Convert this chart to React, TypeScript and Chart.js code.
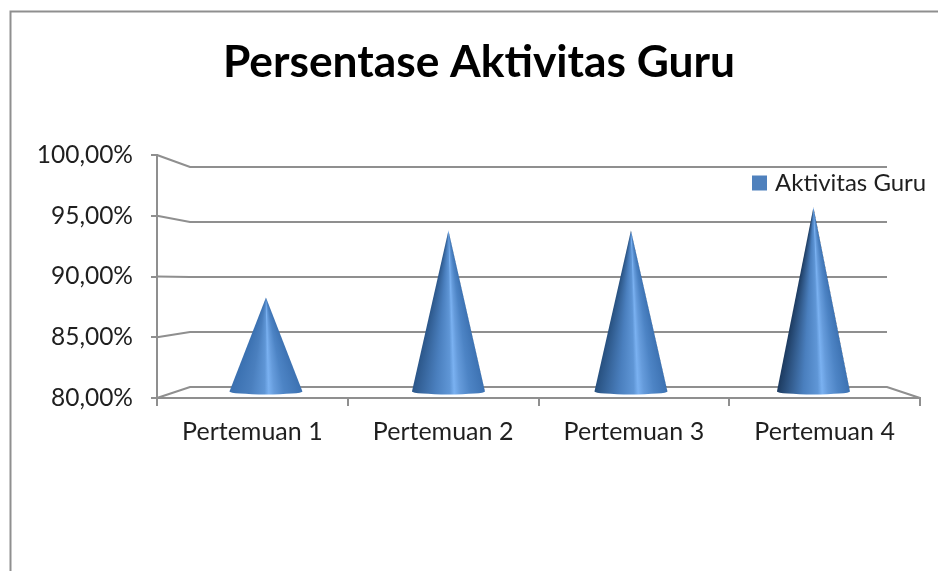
import React, { useEffect, useRef } from "react";
import { Chart, registerables } from "chart.js";

Chart.register(...registerables);

const categories = ["Pertemuan 1", "Pertemuan 2", "Pertemuan 3", "Pertemuan 4"];
const seriesName = "Aktivitas Guru";
const values = [88.2, 94, 94, 96];
const chartTitle = "Persentase Aktivitas Guru";
const coneLeftColors = ["#3a70b0", "#2b5689", "#27507f", "#1c3a5f"];
const coneHighlightStops = [0.52, 0.56, 0.58, 0.6];

const GRID = "#8f8f8f";
const FONT = "Lato, Carlito, 'Open Sans', sans-serif";
const DEPTH_LEFT = 33;
const DEPTH_RIGHT = 33;
const DEPTH_TOP = 12;
const DEPTH_BOTTOM = 11;

const scene = {
  id: "scene",
  beforeDraw(chart: any) {
    const { ctx, width } = chart;
    ctx.save();
    ctx.fillStyle = "#ffffff";
    ctx.fillRect(0, 0, width, chart.height);
    ctx.strokeStyle = GRID;
    ctx.lineWidth = 2;
    ctx.beginPath();
    ctx.moveTo(10.5, chart.height);
    ctx.lineTo(10.5, 11.5);
    ctx.lineTo(width, 11.5);
    ctx.stroke();
    ctx.restore();
  },
  afterLayout(chart: any) {
    const l = chart.legend;
    l.left = 752;
    l.right = 938;
    l.top = 167;
    l.bottom = 200;
  },
  beforeDatasetsDraw(chart: any) {
    const { ctx, chartArea: a, scales } = chart;
    const y = scales.y;
    const range = y.bottom - y.top;
    ctx.save();
    ctx.strokeStyle = GRID;
    ctx.lineWidth = 2.2;
    y.ticks.forEach((t: any) => {
      const fy = y.getPixelForValue(t.value);
      const by = a.top + DEPTH_TOP + ((fy - a.top) / range) * (range - DEPTH_TOP - DEPTH_BOTTOM);
      ctx.beginPath();
      ctx.moveTo(a.left, fy);
      ctx.lineTo(a.left + DEPTH_LEFT, by);
      ctx.lineTo(a.right - DEPTH_RIGHT, by);
      if (t.value === y.min) ctx.lineTo(a.right, fy);
      ctx.stroke();
    });
    ctx.restore();
  },
  beforeDatasetDraw(chart: any, args: any) {
    const { ctx, chartArea: a, scales } = chart;
    const y = scales.y;
    const meta = chart.getDatasetMeta(args.index);
    const range = y.bottom - y.top;
    const midY = (py: number) =>
      a.top + DEPTH_TOP / 2 + ((py - a.top) / range) * (range - (DEPTH_TOP + DEPTH_BOTTOM) / 2);
    const w = a.right - a.left;
    const midX = (px: number) =>
      a.left + DEPTH_LEFT / 2 + 1.2 + ((px - a.left) / w) * (w - (DEPTH_LEFT + DEPTH_RIGHT) / 2);
    meta.data.forEach((bar: any, i: number) => {
      const cx = midX(bar.x);
      const half = bar.width / 2;
      const tipY = midY(bar.y);
      const baseY = midY(y.bottom) - 1;
      const theta = Math.atan2(half, baseY - tipY);
      const g = ctx.createConicGradient(Math.PI / 2 - theta, cx, tipY);
      const stop = (t: number, c: string) =>
        g.addColorStop(Math.min(1, Math.max(0, (1 - t) * (2 * theta) / (2 * Math.PI))), c);
      const h = coneHighlightStops[i];
      stop(0, coneLeftColors[i]);
      stop(h - 0.24, "#4a7fbe");
      stop(h - 0.04, "#5f96d6");
      stop(h + 0.02, "#7ab1f1");
      stop(h + 0.1, "#659bdb");
      stop(h + 0.24, "#4d84c5");
      stop(1, "#3d72b2");
      ctx.save();
      ctx.fillStyle = g;
      ctx.beginPath();
      ctx.moveTo(cx, tipY);
      ctx.lineTo(cx + half, baseY);
      ctx.ellipse(cx, baseY, half, 3, 0, 0, Math.PI);
      ctx.closePath();
      ctx.fill();
      ctx.restore();
    });
    return false;
  },
};

export default function App() {
  const ref = useRef<HTMLCanvasElement>(null);
  useEffect(() => {
    const chart = new Chart(ref.current!, {
      type: "bar",
      data: {
        labels: categories,
        datasets: [
          {
            label: seriesName,
            data: values,
            backgroundColor: "#4f81bd",
            borderColor: "#4f81bd",
            borderWidth: 8,
            barThickness: 73,
          },
        ],
      },
      plugins: [scene],
      options: {
        responsive: false,
        animation: false,
        layout: { padding: { left: 38, right: 18, top: 0, bottom: 113 } },
        plugins: {
          tooltip: { enabled: false },
          title: {
            display: true,
            text: chartTitle,
            color: "#000000",
            font: { family: FONT, size: 44.3, weight: "bold", lineHeight: 1.2 },
            padding: { top: 36, bottom: 65.84 },
          },
          legend: {
            position: "chartArea",
            align: "start",
            labels: {
              boxWidth: 7,
              boxHeight: 7,
              padding: 4,
              color: "#1f1f1f",
              font: { family: FONT, size: 24 },
            },
          },
        },
        scales: {
          x: {
            type: "category",
            offset: true,
            afterFit(s: any) {
              s.height = 60;
            },
            grid: {
              drawOnChartArea: false,
              drawTicks: true,
              tickLength: 8,
              color: GRID,
              lineWidth: 2,
            },
            border: { color: GRID, width: 2 },
            ticks: {
              color: "#1f1f1f",
              padding: 11,
              maxRotation: 0,
              font: { family: FONT, size: 25 },
            },
          },
          y: {
            type: "linear",
            min: 80,
            max: 100,
            afterFit(s: any) {
              s.width = 119;
            },
            grid: {
              drawOnChartArea: false,
              drawTicks: true,
              tickLength: 6,
              color: GRID,
              lineWidth: 2,
            },
            border: { color: GRID, width: 2 },
            ticks: {
              stepSize: 5,
              color: "#1f1f1f",
              padding: 18,
              font: { family: FONT, size: 24.5 },
              callback: (v: any) => Number(v).toFixed(2).replace(".", ",") + "%",
            },
          },
        },
      },
    } as any);
    return () => chart.destroy();
  }, []);
  return (
    <canvas
      ref={ref}
      width={938}
      height={571}
      style={{ position: "absolute", left: 0, top: 0, display: "block" }}
    />
  );
}
